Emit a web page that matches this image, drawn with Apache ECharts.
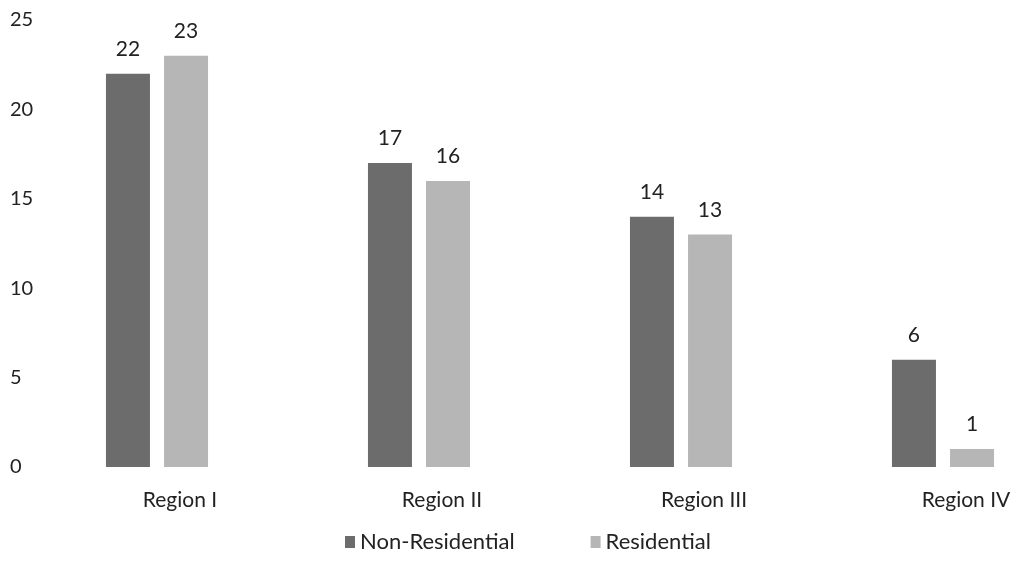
<!DOCTYPE html>
<html>
<head>
<meta charset="utf-8">
<script src="https://cdn.jsdelivr.net/npm/echarts@6/dist/echarts.min.js"></script>
<style>
  html, body { margin: 0; padding: 0; background: #fff; }
  #chart { width: 1020px; height: 561px; }
</style>
</head>
<body>
<div id="chart"></div>
<script>
// Regions on the category axis
var regions = ['Region I', 'Region II', 'Region III', 'Region IV'];
// Counts per region
var nonResidential = [22, 17, 14, 6];
var residential = [23, 16, 13, 1];
// Value axis range and step
var yMin = 0, yMax = 25, yStep = 5;

var font = 'Lato, "Open Sans", sans-serif';
var chart = echarts.init(document.getElementById('chart'));

function barLabel() {
  return {
    show: true,
    position: 'top',
    distance: 14,
    color: '#222',
    fontSize: 21,
    fontFamily: font
  };
}

chart.setOption({
  animation: false,
  backgroundColor: '#fff',
  grid: {
    left: 26,
    width: 1048,
    top: 20,
    bottom: 94,
    outerBoundsMode: 'none',
    containLabel: false
  },
  legend: {
    bottom: 3,
    left: 340,
    itemWidth: 10,
    itemHeight: 12,
    itemGap: 76,
    icon: 'rect',
    textStyle: { fontSize: 22, color: '#222', fontFamily: font },
    data: ['Non-Residential', 'Residential']
  },
  xAxis: {
    type: 'category',
    data: regions,
    axisLine: { show: false },
    axisTick: { show: false },
    axisLabel: {
      margin: 23,
      fontSize: 21,
      color: '#222',
      fontFamily: font,
      padding: [0, 0, 0, 46]
    }
  },
  yAxis: {
    type: 'value',
    min: yMin,
    max: yMax,
    interval: yStep,
    splitLine: { show: false },
    axisLine: { show: false },
    axisTick: { show: false },
    axisLabel: {
      align: 'left',
      margin: 16,
      fontSize: 20,
      color: '#222',
      fontFamily: font
    }
  },
  series: [
    {
      name: 'Non-Residential',
      type: 'bar',
      data: nonResidential,
      barWidth: 44,
      barGap: '32%',
      itemStyle: { color: '#6c6c6c' },
      label: barLabel()
    },
    {
      name: 'Residential',
      type: 'bar',
      data: residential,
      barWidth: 44,
      itemStyle: { color: '#b6b6b6' },
      label: barLabel()
    }
  ]
});
</script>
</body>
</html>
